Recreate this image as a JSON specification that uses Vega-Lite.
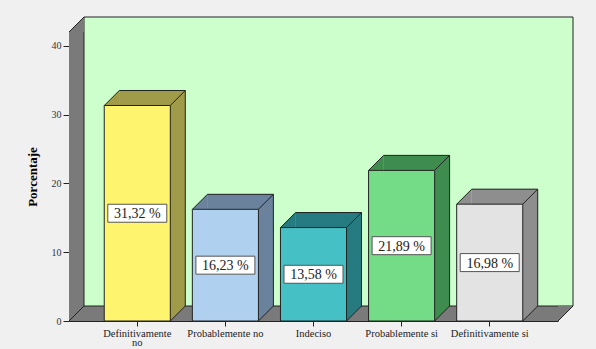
{
  "$schema": "https://vega.github.io/schema/vega-lite/v6.json",
  "width": 489,
  "height": 289,
  "autosize": {"type": "none"},
  "padding": {"left": 69, "top": 32, "right": 38, "bottom": 28},
  "background": "#f0f0f0",
  "config": {
    "view": {"stroke": null},
    "locale": {"number": {"decimal": ",", "thousands": ".", "grouping": [3], "currency": ["", " %"]}}
  },
  "datasets": {
    "resp": [
      {"cat": "Definitivamente no", "v": 31.32},
      {"cat": "Probablemente no", "v": 16.23},
      {"cat": "Indeciso", "v": 13.58},
      {"cat": "Probablemente si", "v": 21.89},
      {"cat": "Definitivamente si", "v": 16.98}
    ],
    "one": [{}]
  },
  "layer": [
    {
      "data": {"name": "one"},
      "encoding": {
        "x": {"datum": 0, "type": "quantitative", "scale": {"domain": [0, 1], "nice": false, "zero": false}, "axis": null},
        "y": {"datum": 0, "type": "quantitative", "scale": {"domain": [0, 42], "nice": false}, "axis": null}
      },
      "layer": [
        {
          "mark": {"type": "rect", "fill": "#7a7a7a"},
          "encoding": {"x2": {"datum": 1}, "y2": {"datum": 42}}
        },
        {
          "mark": {"type": "rect", "fill": "#ccffcc", "stroke": "#222222", "strokeWidth": 1, "xOffset": 15, "x2Offset": 15, "yOffset": -15, "y2Offset": -15},
          "encoding": {"x2": {"datum": 1}, "y2": {"datum": 42}}
        },
        {
          "mark": {"type": "point", "shape": "M-1,1L1,-1L1,1Z", "size": 225, "filled": true, "fill": "#7a7a7a", "strokeWidth": 0, "opacity": 1, "xOffset": 7.5, "yOffset": -7.5},
          "encoding": {"y": {"datum": 42}}
        },
        {
          "mark": {"type": "point", "shape": "M-1,-1L1,-1L-1,1Z", "size": 225, "filled": true, "fill": "#7a7a7a", "strokeWidth": 0, "opacity": 1, "xOffset": 7.5, "yOffset": -7.5},
          "encoding": {"x": {"datum": 1}}
        },
        {
          "mark": {"type": "point", "shape": "M-1,1L1,-1", "size": 225, "filled": false, "stroke": "#222222", "strokeWidth": 1, "opacity": 1, "xOffset": 7.5, "yOffset": -7.5},
          "encoding": {"y": {"datum": 42}}
        },
        {
          "mark": {"type": "point", "shape": "M-1,1L1,-1", "size": 225, "filled": false, "stroke": "#222222", "strokeWidth": 1, "opacity": 1, "xOffset": 7.5, "yOffset": -7.5},
          "encoding": {}
        },
        {
          "mark": {"type": "point", "shape": "M-1,1L1,-1", "size": 225, "filled": false, "stroke": "#222222", "strokeWidth": 1, "opacity": 1, "xOffset": 7.5, "yOffset": -7.5},
          "encoding": {"x": {"datum": 1}}
        }
      ]
    },
    {
      "data": {"name": "resp"},
      "encoding": {
        "x": {
          "field": "cat", "type": "nominal", "sort": null,
          "scale": {"type": "band", "paddingInner": 0.25, "paddingOuter": 0.4},
          "axis": {
            "title": null, "labelAngle": 0, "labelFont": "Liberation Serif", "labelFontSize": 10.5, "labelColor": "#222222",
            "labelPadding": 2, "tickSize": 5, "tickColor": "#222222", "domainColor": "#222222", "labelOverlap": false,
            "labelLimit": 200, "labelBaseline": "top", "labelLineHeight": 9.5,
            "labelExpr": "datum.value == 'Definitivamente no' ? ['Definitivamente', 'no'] : datum.value"
          }
        },
        "y": {
          "field": "v", "type": "quantitative",
          "scale": {"domain": [0, 42], "nice": false},
          "axis": {
            "title": "Porcentaje", "titleFont": "Liberation Serif", "titleFontSize": 13, "titleFontWeight": "bold", "titleColor": "#000000",
            "titlePadding": 12, "values": [0, 10, 20, 30, 40], "grid": false,
            "labelFont": "Liberation Serif", "labelFontSize": 10, "labelColor": "#333333", "labelPadding": 2,
            "tickSize": 6, "tickColor": "#222222", "domainColor": "#222222"
          }
        }
      },
      "layer": [
        {
          "mark": {"type": "bar", "width": 66, "xOffset": 15, "yOffset": -15, "y2Offset": -15},
          "encoding": {
            "y2": {"datum": 0},
            "fill": {"field": "cat", "type": "nominal", "sort": null, "legend": null,
              "scale": {"domain": ["Definitivamente no", "Probablemente no", "Indeciso", "Probablemente si", "Definitivamente si"], "range": ["#a09b48", "#6a829c", "#257b7f", "#3f8c4f", "#8e8e8e"]}}
          }
        },
        {
          "mark": {"type": "bar", "width": 51, "xOffset": 7.5, "yOffset": -15},
          "encoding": {
            "y2": {"field": "v"},
            "fill": {"field": "cat", "type": "nominal", "sort": null, "legend": null,
              "scale": {"domain": ["Definitivamente no", "Probablemente no", "Indeciso", "Probablemente si", "Definitivamente si"], "range": ["#a09b48", "#6a829c", "#257b7f", "#3f8c4f", "#8e8e8e"]}}
          }
        },
        {
          "mark": {"type": "point", "shape": "M-1,1L1,-1L1,1Z", "size": 225, "filled": true, "strokeWidth": 0, "opacity": 1, "xOffset": -25.5, "yOffset": -7.5},
          "encoding": {
            "fill": {"field": "cat", "type": "nominal", "sort": null, "legend": null,
              "scale": {"domain": ["Definitivamente no", "Probablemente no", "Indeciso", "Probablemente si", "Definitivamente si"], "range": ["#a09b48", "#6a829c", "#257b7f", "#3f8c4f", "#8e8e8e"]}}
          }
        },
        {
          "mark": {"type": "point", "shape": "M-1,-1L1,-1L-1,1Z", "size": 225, "filled": true, "strokeWidth": 0, "opacity": 1, "xOffset": 40.5, "yOffset": -7.5},
          "encoding": {
            "fill": {"field": "cat", "type": "nominal", "sort": null, "legend": null,
              "scale": {"domain": ["Definitivamente no", "Probablemente no", "Indeciso", "Probablemente si", "Definitivamente si"], "range": ["#a09b48", "#6a829c", "#257b7f", "#3f8c4f", "#8e8e8e"]}}
          }
        },
        {
          "mark": {"type": "point", "shape": "M-1,-1L-1,1L1,-1Z", "size": 225, "filled": true, "strokeWidth": 0, "opacity": 1, "xOffset": 40.5, "yOffset": -7.5},
          "encoding": {
            "y": {"datum": 0},
            "fill": {"field": "cat", "type": "nominal", "sort": null, "legend": null,
              "scale": {"domain": ["Definitivamente no", "Probablemente no", "Indeciso", "Probablemente si", "Definitivamente si"], "range": ["#a09b48", "#6a829c", "#257b7f", "#3f8c4f", "#8e8e8e"]}}
          }
        },
        {
          "mark": {"type": "point", "shape": "M-1,1L1,-1", "size": 225, "filled": false, "stroke": "#222222", "strokeWidth": 1, "opacity": 1, "xOffset": -25.5, "yOffset": -7.5},
          "encoding": {}
        },
        {
          "mark": {"type": "point", "shape": "M-1,1L1,-1", "size": 225, "filled": false, "stroke": "#222222", "strokeWidth": 1, "opacity": 1, "xOffset": 40.5, "yOffset": -7.5},
          "encoding": {}
        },
        {
          "mark": {"type": "point", "shape": "M-1,1L1,-1", "size": 225, "filled": false, "stroke": "#222222", "strokeWidth": 1, "opacity": 1, "xOffset": 40.5, "yOffset": -7.5},
          "encoding": {"y": {"datum": 0}}
        },
        {
          "mark": {"type": "point", "shape": "M-1,0L1,0", "size": 4356, "filled": false, "stroke": "#222222", "strokeWidth": 1, "opacity": 1, "xOffset": 15, "yOffset": -15},
          "encoding": {}
        },
        {
          "mark": {"type": "rule", "color": "#222222", "strokeWidth": 1, "xOffset": 48, "yOffset": -15, "y2Offset": -15},
          "encoding": {"y2": {"datum": 0}}
        },
        {
          "mark": {"type": "bar", "stroke": "#222222", "strokeWidth": 1},
          "encoding": {
            "y2": {"datum": 0},
            "fill": {"field": "cat", "type": "nominal", "sort": null, "legend": null,
              "scale": {"domain": ["Definitivamente no", "Probablemente no", "Indeciso", "Probablemente si", "Definitivamente si"], "range": ["#fff46e", "#afd0ef", "#45c1c5", "#74dc86", "#e3e3e3"]}}
          }
        }
      ],
      "resolve": {"scale": {"fill": "independent"}}
    },
    {
      "data": {"name": "resp"},
      "encoding": {
        "x": {"field": "cat", "type": "nominal", "sort": null, "scale": {"type": "band", "paddingInner": 0.25, "paddingOuter": 0.4}, "axis": null},
        "y": {"field": "v", "type": "quantitative", "scale": {"domain": [0, 84], "nice": false}, "axis": null}
      },
      "layer": [
        {
          "mark": {"type": "point", "shape": "M-1,-0.305L1,-0.305L1,0.305L-1,0.305Z", "size": 3481, "filled": true, "fill": "#ffffff", "stroke": "#555555", "strokeWidth": 1, "opacity": 1},
          "encoding": {}
        },
        {
          "mark": {"type": "text", "font": "Liberation Serif", "fontSize": 14, "color": "#222222", "align": "center", "baseline": "middle", "dy": 1},
          "encoding": {"text": {"field": "v", "type": "quantitative", "format": "$.2f"}}
        }
      ]
    }
  ],
  "resolve": {"scale": {"x": "independent", "y": "independent"}}
}
